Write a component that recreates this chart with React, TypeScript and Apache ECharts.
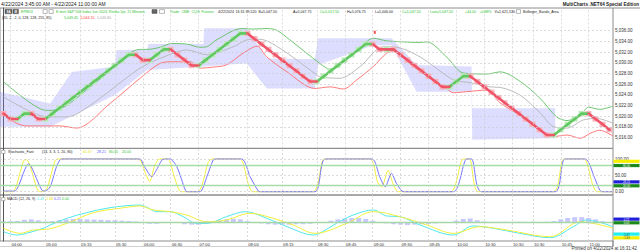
import React, { useEffect, useRef } from 'react';
import * as echarts from 'echarts';

const FONT = '"Liberation Sans", Arial, sans-serif';

// ---------------- data ----------------
const firstBrickOpen = 5021;
const brickCloses = [
  5020, 5019, 5020, 5021, 5020, 5019,
  5020, 5021, 5022, 5023, 5024, 5025, 5026, 5027, 5028, 5029, 5030, 5031, 5032,
  5031, 5030, 5031, 5032, 5033, 5032, 5031, 5030, 5029,
  5030, 5031, 5032, 5033, 5034, 5035, 5036,
  5035, 5034, 5033, 5032, 5031, 5030, 5029, 5028, 5027, 5026,
  5027, 5028, 5029, 5030, 5031, 5032, 5033, 5034,
  5033, 5032, 5033,
  5032, 5031, 5030, 5029, 5028, 5027, 5026, 5025,
  5026, 5027, 5028,
  5027, 5026, 5025, 5024, 5023, 5022, 5021, 5020, 5019, 5018, 5017, 5016,
  5017, 5018, 5019, 5020, 5021,
  5020, 5019, 5018, 5017,
];

const upperBand = [
  [0, 5026.5], [5.7, 5021.2], [6.7, 5021.1], [8.1, 5021.4], [9.6, 5022.5], [13.9, 5027.0],
  [19.6, 5032.5], [20.6, 5032.5], [22.5, 5032.9], [24.1, 5033.6], [26.3, 5033.5], [28.2, 5032.9],
  [29.2, 5033.0], [30.6, 5034.3], [34.2, 5036.4], [35.8, 5036.3], [37.8, 5036.4], [39.2, 5036.1],
  [41.1, 5034.3], [45.4, 5029.9], [46.9, 5028.8], [48.3, 5030.0], [50.7, 5032.1], [53.1, 5034.6],
  [55.0, 5034.1], [57.4, 5033.9], [59.8, 5033.8], [60.8, 5033.9], [63.6, 5031.1], [66.0, 5028.1],
  [69.4, 5027.9], [71.3, 5028.3], [74.2, 5026.5], [77.0, 5023.4], [79.4, 5019.9], [80.9, 5019.2],
  [82.8, 5020.2], [84.0, 5021.7], [85.6, 5021.3], [87.5, 5021.9],
];
const middleBand = [
  [0, 5023.6], [4.3, 5020.6], [6.4, 5019.9], [9.1, 5019.9], [10.5, 5020.4], [13.9, 5023.4],
  [19.6, 5029.0], [23.4, 5031.3], [26.3, 5032.4], [29.2, 5031.5], [33.0, 5033.0], [35.4, 5034.4],
  [36.8, 5034.4], [39.7, 5032.7], [44.7, 5028.0], [45.4, 5027.4], [48.3, 5027.1], [51.2, 5029.3],
  [54.5, 5033.0], [56.4, 5032.9], [59.8, 5031.1], [64.6, 5026.8], [67.0, 5026.3], [69.8, 5025.5],
  [71.3, 5025.4], [74.1, 5024.0], [77.0, 5020.7], [78.9, 5018.1], [80.9, 5017.8], [83.2, 5019.3],
  [85.2, 5019.6], [87.5, 5018.7],
];
const lowerBand = [
  [0, 5020.2], [1.9, 5018.7], [3.3, 5018.2], [6.2, 5018.2], [8.1, 5018.2], [10.5, 5017.8],
  [15.3, 5022.4], [19.6, 5027.1], [22.5, 5029.9], [24.4, 5030.2], [26.8, 5030.2], [28.2, 5029.0],
  [30.1, 5029.2], [32.0, 5029.6], [34.4, 5031.8], [36.4, 5033.1], [37.8, 5031.1], [40.7, 5028.3],
  [44.7, 5025.2], [46.9, 5025.5], [48.8, 5025.1], [50.7, 5026.8], [53.1, 5029.3], [55.0, 5031.8],
  [56.0, 5032.1], [58.8, 5029.3], [63.6, 5025.2], [64.6, 5024.4], [66.5, 5024.6], [69.4, 5024.9],
  [71.3, 5022.5], [74.1, 5020.2], [77.0, 5017.4], [78.9, 5016.2], [80.9, 5016.5], [82.8, 5015.9],
  [84.2, 5016.8], [85.6, 5017.4], [87.5, 5016.3],
];
const bandAreaTop = [
  [-0.5, 5024.6], [6.7, 5022.4], [9.8, 5028.3], [16.0, 5029.3], [16.25, 5032.4], [20.6, 5032.4],
  [20.8, 5033.5], [28.7, 5033.5], [28.8, 5036.45], [34.9, 5036.45], [37.8, 5030.8], [44.7, 5030.65],
  [45.15, 5034.6], [55.7, 5034.6], [59.3, 5029.6], [67.2, 5029.3], [67.3, 5021.5], [79.2, 5021.5],
];
const bandAreaBottom = [
  [-0.5, 5018.05], [6.7, 5018.05], [16.0, 5024.0], [20.6, 5028.65], [28.7, 5029.3], [34.9, 5029.9],
  [37.8, 5025.2], [44.7, 5025.2], [45.15, 5029.6], [53.1, 5033.3], [55.7, 5033.3], [59.3, 5024.6],
  [67.2, 5024.6], [67.3, 5015.6], [79.2, 5015.9],
];
const highMarks = [[53.3, 5035.7]];

const stochK = [
  [0, 0], [1.3, 0], [2.9, 95], [3.3, 98], [4.9, 5], [5.4, 0], [6.2, 8], [7.4, 95], [7.8, 100],
  [19.3, 100], [20.5, 50], [21.0, 31], [21.7, 80], [22.4, 100], [23.6, 100], [24.6, 40], [25.5, 0],
  [27.9, 0], [29.4, 90], [29.9, 100], [33.9, 100], [35.2, 20], [35.8, 0], [44.4, 0], [45.8, 95],
  [46.1, 100], [52.6, 100], [53.7, 30], [54.3, 15], [55.2, 65], [56.0, 20], [56.7, 0], [64.2, 0],
  [66.0, 100], [66.9, 100], [68.2, 0], [78.9, 0], [80.2, 95], [80.5, 100], [83.3, 100], [84.6, 20],
  [85.2, 0], [87.5, 0],
];
const stochD = [
  [0, 2], [1.6, 2], [2.1, 15], [3.6, 85], [4.0, 76], [5.5, 5], [6.0, 2], [6.7, 15], [7.6, 76],
  [8.1, 97], [8.4, 100], [19.6, 100], [20.1, 82], [21.3, 46], [22.0, 68], [22.9, 99], [23.9, 100],
  [24.9, 76], [26.1, 5], [26.4, 0], [28.2, 0], [29.2, 46], [30.1, 97], [30.5, 100], [34.2, 100],
  [35.4, 46], [36.6, 2], [37.0, 0], [44.7, 0], [46.2, 100], [52.9, 100], [54.0, 46], [54.8, 15],
  [55.7, 56], [56.4, 26], [57.2, 2], [57.6, 0], [64.6, 0], [66.5, 100], [67.2, 100], [68.6, 0],
  [79.2, 0], [80.6, 100], [83.5, 100], [84.9, 40], [85.6, 5], [86.0, 0], [87.5, 0],
];
const macdLine = [
  [0, -1.1], [1.9, -1.47], [3.3, -1.28], [5.7, -0.71], [6.7, -0.34], [9.1, 0.42], [11.9, 1.05],
  [15.3, 1.62], [19.6, 1.92], [20.6, 1.66], [22.0, 1.17], [23.9, 1.17], [25.8, 0.6], [27.7, -0.15],
  [29.2, -0.15], [32.0, 0.6], [34.7, 1.17], [37.8, 0.42], [40.7, -0.53], [44.5, -1.47], [45.4, -1.28],
  [47.8, -0.15], [50.2, 0.79], [53.1, 1.36], [55.0, 0.68], [56.9, 0.6], [59.8, -0.34], [64.6, -1.47],
  [67.4, -0.45], [70.3, -0.71], [74.1, -1.28], [78.5, -1.78], [81.8, -0.53], [83.7, 0.23], [87.5, -0.53],
];
const signalLine = [
  [0, -0.71], [2.4, -1.28], [4.3, -0.9], [6.2, -0.83], [9.1, -0.15], [12.9, 1.05], [16.7, 1.55],
  [19.6, 1.81], [21.5, 1.36], [23.9, 1.17], [26.3, 0.79], [29.2, 0.03], [32.0, 0.23], [35.4, 0.98],
  [38.7, 0.42], [41.6, -0.34], [44.7, -1.28], [49.3, -0.15], [53.1, 1.17], [56.9, 0.6], [60.8, -0.34],
  [64.6, -1.28], [68.4, -0.53], [72.2, -0.9], [78.5, -1.66], [82.8, 0.03], [87.5, -0.71],
];
const macdHist = [
  0.05, 0.08, 0.1, 0.25, 0.3, 0.2, 0.05, 0.1, 0.2, 0.3,
  0.35, 0.35, 0.3, 0.28, 0.25, 0.22, 0.2, 0.15, 0.1, 0.05,
  -0.1, -0.2, -0.2, -0.1, 0, -0.1, -0.25, -0.3, -0.3, -0.2,
  0.05, 0.2, 0.3, 0.35, 0.3, 0.1, -0.05, -0.15, -0.25, -0.3,
  -0.3, -0.3, -0.25, -0.25, -0.2, -0.1, -0.05, 0.15, 0.3, 0.4,
  0.45, 0.45, 0.35, 0.15, -0.1, -0.15, -0.25, -0.3, -0.35, -0.3,
  -0.25, -0.2, -0.15, -0.1, -0.05, 0.15, 0.35, 0.4, 0.2, 0.05,
  0.02, -0.03, 0.02, -0.03, 0.02, -0.03, 0.03, -0.02, 0.03, 0.1,
  0.3, 0.45, 0.55, 0.55, 0.45, 0.3, 0.1, -0.1,
];

const priceTicks = [5016, 5018, 5020, 5022, 5024, 5026, 5028, 5030, 5032, 5034, 5036];
const stochLabelTicks = [0, 50, 100];
const stochLevels = [20, 80];
const timeTickBars = [1, 6, 11, 16, 20, 24, 28, 35, 40, 45, 49, 53, 57, 61, 65, 69, 73, 76, 80, 84];
const timeTickLabels = [
  '04:00', '05:00', '05:15', '05:30', '06:00', '06:30', '07:00', '08:00', '08:15', '08:30',
  '08:45', '09:00', '09:30', '09:45', '10:00', '10:30', '10:30', '10:30', '10:45', '11:00',
];
const stochMarkValues = [93, 80, 28.21, 20];
const stochMarkTexts = ['', '80.00', '28.21', '20.00'];
const macdMarkValues = [0.21, 0, -1.47, -1.68];
const macdMarkTexts = ['0.21', '0.00', '-1.47', '-1.68'];

// ---------------- styles ----------------
const GREEN_TXT = '#2ec42e';
const RED_TXT = '#ff3333';
const YELLOW = '#f2ee3a';
const BLUE = '#7474ff';
const CYAN = '#4fe8ee';
const GRID_LINE = { type: [2, 2] as any, color: '#cdcdcd', width: 0.7 };
const HS = 3.6; // header font size

const txt = (x: number, y: number, text: string, fill = '#222', size = HS, weight = 'normal', align = 'left') => ({
  type: 'text', x, y, silent: true, z: 100,
  style: {
    text, fill, fontSize: size, fontFamily: FONT, fontWeight: weight,
    align, verticalAlign: 'middle', textAlign: align, textVerticalAlign: 'middle',
  },
});
const box = (x: number, y: number, w: number, h: number, fill: string, stroke?: string) => ({
  type: 'rect', silent: true, z: 100,
  shape: { x, y, width: w, height: h },
  style: { fill, stroke: stroke || fill, lineWidth: 0.5 },
});
const hline = (x1: number, x2: number, y: number, stroke: string, w = 1) => ({
  type: 'line', silent: true, z: 100,
  shape: { x1, y1: y, x2, y2: y }, style: { stroke, lineWidth: w },
});
const vline = (x: number, y1: number, y2: number, stroke: string, w = 1) => ({
  type: 'line', silent: true, z: 100,
  shape: { x1: x, y1, x2: x, y2 }, style: { stroke, lineWidth: w },
});

const fmtPrice = (v: number) =>
  Number.isInteger(v) && v >= 5016 && v <= 5036
    ? `${Math.floor(v / 1000)},${String(v % 1000).padStart(3, '0')}.00`
    : '';

export default function App() {
  const ref = useRef<HTMLDivElement>(null);

  useEffect(() => {
    const chart = echarts.init(ref.current!, undefined, { renderer: 'svg' });

    const opens = brickCloses.map((c, i) => (i === 0 ? firstBrickOpen : brickCloses[i - 1]));
    const candles = brickCloses.map((c, i) => [i, opens[i], c, Math.min(opens[i], c), Math.max(opens[i], c)]);
    const isUp = brickCloses.map((c, i) => c > opens[i]);
    const mids = brickCloses.map((c, i) => (c + opens[i]) / 2);
    // centre line of each run of bricks (continues to the first brick of the next run)
    const runLine = (up: boolean) =>
      brickCloses.map((_, i) =>
        isUp[i] === up || (i > 0 && isUp[i - 1] === up) ? [i, mids[i]] : [i, '-'],
      );
    const areaPolygon = [...bandAreaTop, ...bandAreaBottom.slice().reverse()];
    const histData = macdHist.map((v, i) => [i, v]);
    const vLines = timeTickBars.map((b) => ({ xAxis: b, lineStyle: GRID_LINE }));

    const xBase = (gridIndex: number) => ({
      type: 'value', gridIndex, min: -0.5, max: 87.5,
      axisLine: { show: false }, axisTick: { show: false }, axisLabel: { show: false }, splitLine: { show: false },
    });

    const markBoxes = (vals: number[], texts: string[], colors: string[], tcolors: string[], offs: number[]) => ({
      silent: true,
      symbol: 'rect',
      symbolSize: [26, 3.2],
      label: { show: true, position: 'inside', fontSize: 2.8, fontFamily: FONT },
      data: vals.map((v, k) => ({
        coord: [87.5, v],
        symbolOffset: [13.5, offs[k]],
        itemStyle: { color: colors[k] },
        label: { formatter: texts[k], color: tcolors[k] },
      })),
    });

    const option: any = {
      animation: false,
      backgroundColor: '#ffffff',
      grid: [
        { left: 0, top: 8, width: 613, height: 140.4, show: true, borderColor: '#8c8c8c', borderWidth: 1 },
        { left: 0, top: 148.4, width: 613, height: 46.6, show: true, borderColor: '#8c8c8c', borderWidth: 1 },
        { left: 0, top: 195, width: 613, height: 46, show: true, borderColor: '#8c8c8c', borderWidth: 1 },
      ],
      xAxis: [
        xBase(0),
        xBase(1),
        {
          ...xBase(2),
          axisLine: { show: true, lineStyle: { color: '#8c8c8c' } },
          axisLabel: {
            show: true, customValues: timeTickBars, fontSize: 4.2, fontFamily: FONT, color: '#333',
            align: 'left', margin: 1.5, padding: [0, 0, 0, 1],
            formatter: (v: number) => {
              const k = timeTickBars.indexOf(v);
              return k >= 0 ? timeTickLabels[k] : '';
            },
          },
        },
      ],
      yAxis: [
        {
          type: 'value', gridIndex: 0, position: 'right', min: 5014, max: 5040.24, interval: 2,
          axisLine: { show: true, lineStyle: { color: '#555', width: 1 } },
          axisTick: { show: false }, splitLine: { show: false },
          axisLabel: { fontSize: 4.5, fontFamily: FONT, color: '#333', margin: 2, formatter: fmtPrice, showMaxLabel: false },
        },
        {
          type: 'value', gridIndex: 1, position: 'right', min: -10, max: 132.4, interval: 10,
          axisLine: { show: true, lineStyle: { color: '#555', width: 1 } },
          axisTick: { show: false }, splitLine: { show: false },
          axisLabel: {
            fontSize: 4.5, fontFamily: FONT, color: '#333', margin: 2, showMaxLabel: false,
            formatter: (v: number) => (stochLabelTicks.indexOf(v) >= 0 ? v.toFixed(2) : ''),
          },
        },
        {
          type: 'value', gridIndex: 2, position: 'right', min: -2.149, max: 3.054,
          axisLine: { show: true, lineStyle: { color: '#555', width: 1 } },
          axisTick: { show: false }, splitLine: { show: false }, axisLabel: { show: false },
        },
      ],
      series: [
        // price pane grid lines
        {
          type: 'line', xAxisIndex: 0, yAxisIndex: 0, data: [], z: 0, silent: true,
          markLine: {
            silent: true, symbol: 'none', label: { show: false },
            data: [...vLines, ...priceTicks.map((v) => ({ yAxis: v, lineStyle: GRID_LINE }))],
          },
        },
        // Bollinger_Bands_Area
        {
          type: 'custom', xAxisIndex: 0, yAxisIndex: 0, z: 1, silent: true, clip: true,
          data: [[0, 5020]], encode: { x: 0, y: 1 },
          renderItem: (_p: any, api: any) => ({
            type: 'polygon',
            shape: { points: areaPolygon.map((pt) => api.coord(pt)) },
            style: { fill: 'rgba(128,128,255,0.27)' },
          }),
        },
        {
          type: 'line', xAxisIndex: 0, yAxisIndex: 0, data: upperBand, z: 2, symbol: 'none', smooth: 0.3,
          lineStyle: { color: '#5fbf5f', width: 0.9 },
        },
        {
          type: 'line', xAxisIndex: 0, yAxisIndex: 0, data: middleBand, z: 2, symbol: 'none', smooth: 0.3,
          lineStyle: { color: '#b4b4b4', width: 0.9 },
        },
        {
          type: 'line', xAxisIndex: 0, yAxisIndex: 0, data: lowerBand, z: 2, symbol: 'none', smooth: 0.3,
          lineStyle: { color: '#ff6a6a', width: 0.9 },
        },
        {
          type: 'candlestick', xAxisIndex: 0, yAxisIndex: 0, z: 3, data: candles,
          dimensions: ['x', 'open', 'close', 'lowest', 'highest'],
          encode: { x: 'x', y: ['open', 'close', 'lowest', 'highest'] },
          barWidth: '92%',
          itemStyle: {
            color: '#b9ecb9', borderColor: '#b9ecb9',
            color0: '#f8b4bc', borderColor0: '#f8b4bc', borderWidth: 0,
          },
        },
        {
          type: 'line', xAxisIndex: 0, yAxisIndex: 0, z: 4, data: runLine(true), symbol: 'none',
          connectNulls: false, lineStyle: { color: '#62c862', width: 2.6, cap: 'round' },
        },
        {
          type: 'line', xAxisIndex: 0, yAxisIndex: 0, z: 4, data: runLine(false), symbol: 'none',
          connectNulls: false, lineStyle: { color: '#ef5468', width: 2.6, cap: 'round' },
        },
        {
          type: 'scatter', xAxisIndex: 0, yAxisIndex: 0, z: 5, data: highMarks,
          symbol: 'rect', symbolSize: [2, 3], itemStyle: { color: '#ff2020' },
        },
        // stochastic pane
        {
          type: 'line', xAxisIndex: 1, yAxisIndex: 1, data: [], z: 0, silent: true,
          markLine: {
            silent: true, symbol: 'none', label: { show: false },
            data: [
              ...vLines,
              ...stochLabelTicks.map((v) => ({ yAxis: v, lineStyle: GRID_LINE })),
              ...stochLevels.map((v) => ({ yAxis: v, lineStyle: { type: 'solid', color: '#a6dca6', width: 1.3 } })),
            ],
          },
        },
        {
          type: 'line', xAxisIndex: 1, yAxisIndex: 1, data: stochK, z: 2, symbol: 'none', smooth: 0.25,
          lineStyle: { color: YELLOW, width: 1 },
        },
        {
          type: 'line', xAxisIndex: 1, yAxisIndex: 1, data: stochD, z: 3, symbol: 'none', smooth: 0.25,
          lineStyle: { color: BLUE, width: 1 },
          markPoint: markBoxes(
            stochMarkValues, stochMarkTexts,
            ['#f4f000', '#1a8a1a', '#1f1fd8', '#1a8a1a'], ['#555', '#fff', '#fff', '#fff'], [0, 0, -0.6, 0.6],
          ),
        },
        // MACD pane
        {
          type: 'line', xAxisIndex: 2, yAxisIndex: 2, data: [], z: 0, silent: true,
          markLine: {
            silent: true, symbol: 'none', label: { show: false },
            data: [...vLines, { yAxis: 0, lineStyle: { type: 'solid', color: '#a6d8a6', width: 1.3 } }],
          },
        },
        {
          type: 'bar', xAxisIndex: 2, yAxisIndex: 2, data: histData, z: 1, barWidth: 5,
          itemStyle: { color: 'rgba(110,110,255,0.38)' },
        },
        {
          type: 'line', xAxisIndex: 2, yAxisIndex: 2, data: macdLine, z: 2, symbol: 'none', smooth: 0.35,
          lineStyle: { color: CYAN, width: 1 },
        },
        {
          type: 'line', xAxisIndex: 2, yAxisIndex: 2, data: signalLine, z: 2, symbol: 'none', smooth: 0.35,
          lineStyle: { color: YELLOW, width: 1 },
          markPoint: markBoxes(
            macdMarkValues, macdMarkTexts,
            ['#1f1fd8', '#1a8a1a', '#22f0f0', '#f4f000'], ['#fff', '#fff', '#333', '#555'], [-1, 0.8, -0.9, 1],
          ),
        },
      ],
      graphic: [
        txt(1, 4, '4/22/2024 3:45:00 AM - 4/22/2024 11:00:00 AM', '#222', 5),
        txt(639, 4, 'MultiCharts .NET64 Special Edition', '#222', 4.6, 'bold', 'right'),
        hline(613, 640, 8, '#8c8c8c'),
        box(5, 9.3, 7, 4.4, '#5a5a5a'),
        txt(8.5, 11.5, 'SA', '#fff', 3, 'bold', 'center'),
        box(13, 9.3, 5.5, 4.4, '#5a5a5a'),
        txt(15.75, 11.5, 'M', '#fff', 3, 'bold', 'center'),
        txt(21, 11.5, 'EPM24', GREEN_TXT),
        box(43, 9.6, 4.2, 3.8, '#fff', '#777'),
        box(49, 9.6, 4.2, 3.8, '#fff', '#777'),
        txt(56, 11.5, 'E-mini S&P 500 Index Jun 2024, Renko 1pt, 15 Minutes', GREEN_TXT),
        box(152, 9.6, 5, 3.8, '#666', '#444'),
        box(159.5, 9.6, 5, 3.8, '#fff', '#777'),
        txt(170, 11.5, 'Trade', GREEN_TXT),
        txt(181.5, 11.5, 'CME', GREEN_TXT),
        txt(191.5, 11.5, 'CQG', GREEN_TXT),
        txt(201.5, 11.5, 'Futures', GREEN_TXT),
        txt(218, 11.5, '4/22/2024'),
        txt(235.5, 11.5, '16:31:39.520'),
        txt(258.5, 11.5, 'B=5,047.50'),
        txt(293, 11.5, 'A=5,047.75'),
        txt(320, 11.5, 'O=5,017.50', GREEN_TXT),
        txt(347, 11.5, 'H=5,076.75'),
        txt(375, 11.5, 'L=5,006.00'),
        txt(402, 11.5, 'C=5,047.50', GREEN_TXT),
        txt(430, 11.5, 'Last=5,047.50', GREEN_TXT),
        txt(465, 11.5, '+44.00', GREEN_TXT),
        txt(479.5, 11.5, '+0.88%', GREEN_TXT),
        txt(494.5, 11.5, 'V=1,621,530'),
        box(516.5, 9.6, 4, 3.8, '#fff', '#777'),
        txt(523, 11.5, 'Bollinger_Bands_Area'),
        txt(2, 17.6, '(20, 2, -2, 0, 128, 128, 255, 85)'),
        txt(64, 17.6, '5,049.45', GREEN_TXT),
        txt(80.5, 17.6, '5,044.15', RED_TXT),
        txt(97, 17.6, '5,046.80', '#aaaaaa'),
        box(1.7, 150.2, 3.3, 3.3, '#fff', '#777'),
        txt(8, 151.9, 'Stochastic_Fast'),
        txt(42, 151.9, '(14, 3, 3, 1, 20, 80)'),
        txt(83, 151.9, '61.67', '#e6e000'),
        txt(97, 151.9, '28.21', '#5a5aff'),
        txt(109, 151.9, '80.00', GREEN_TXT),
        txt(122, 151.9, '20.00', GREEN_TXT),
        box(1.7, 197.4, 3.3, 3.3, '#fff', '#777'),
        txt(7, 199.1, 'MACD'),
        txt(18.8, 199.1, '(12, 26, 9)'),
        txt(36, 199.1, '-1.47', '#20dde5'),
        txt(45, 199.1, '-1.68', '#e6e000'),
        txt(54, 199.1, '0.21', '#5a5aff'),
        txt(62, 199.1, '0.00', GREEN_TXT),
        vline(613, 241, 246.5, '#555'),
        hline(0, 613, 246.5, '#c4c4c4', 0.8),
        txt(637, 248.8, 'Printed on 4/22/2024 at 16:31:42', '#333', 4.5, 'normal', 'right'),
      ],
    };

    chart.setOption(option);
    return () => chart.dispose();
  }, []);

  return (
    <div
      ref={ref}
      style={{ position: 'fixed', left: 0, top: 0, width: 640, height: 252, background: '#fff' }}
    />
  );
}
